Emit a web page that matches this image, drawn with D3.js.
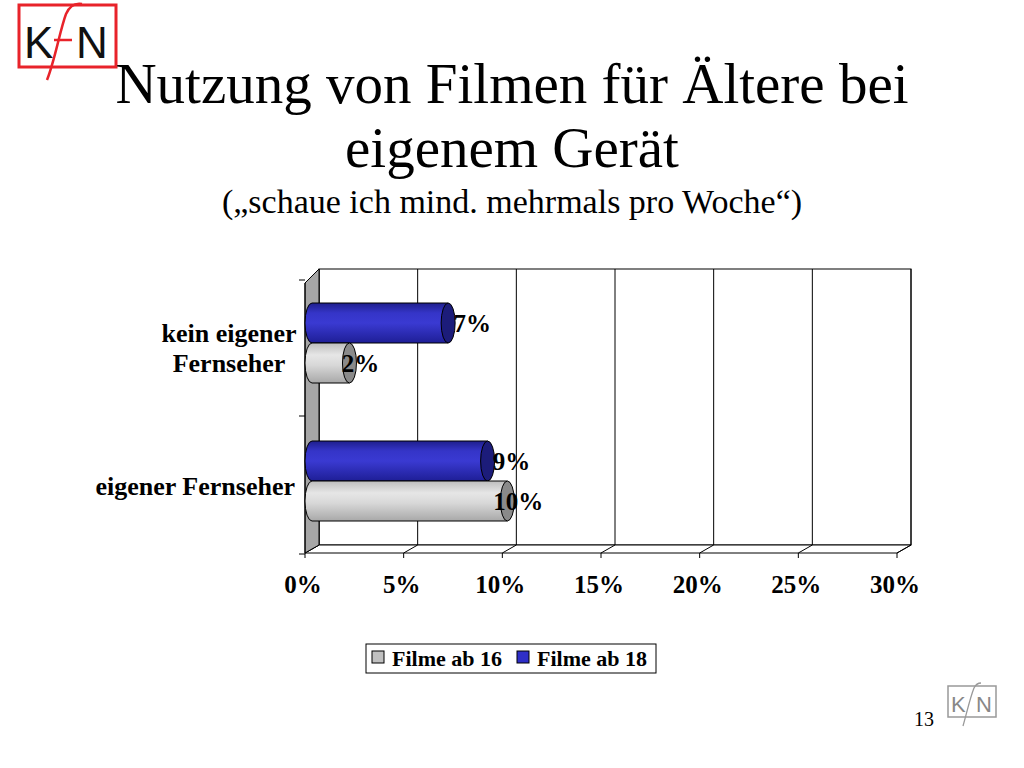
<!DOCTYPE html>
<html><head><meta charset="utf-8">
<script src="https://cdn.jsdelivr.net/npm/d3@7"></script>
<style>body{margin:0;background:#fff}svg{display:block}</style>
</head><body>
<svg id="c" width="1024" height="768"></svg>
<script>
const categories = ["kein eigener Fernseher", "eigener Fernseher"];
const categoryLines = [["kein eigener", "Fernseher"], ["eigener Fernseher"]];
const seriesNames = ["Filme ab 16", "Filme ab 18"];
const filmeAb16 = [2, 10];
const filmeAb18 = [7, 9];
const tickValues = [0, 5, 10, 15, 20, 25, 30];

(function(){
const svg = d3.select("#c");
const serif = "'Liberation Serif','Times New Roman',serif";
const dx = 14, dy = 8;

// logo top-left
const logo = svg.append("g");
logo.append("rect").attr("x",19).attr("y",5).attr("width",97).attr("height",62).attr("fill","none").attr("stroke","#e8232a").attr("stroke-width",3);
logo.append("text").attr("x",24).attr("y",58).attr("font-family","'Liberation Sans',Arial,sans-serif").attr("font-size",44).attr("fill","#111").text("K");
logo.append("text").attr("x",76).attr("y",58).attr("font-family","'Liberation Sans',Arial,sans-serif").attr("font-size",44).attr("fill","#111").text("N");
logo.append("path").attr("d","M47,80 C55,60 60,30 66,14 C70,5 76,3 82,4").attr("fill","none").attr("stroke","#e8232a").attr("stroke-width",2.5);
logo.append("path").attr("d","M54,40 L72,40").attr("fill","none").attr("stroke","#e8232a").attr("stroke-width",2.5);

// title
svg.append("text").attr("x",512).attr("y",103).attr("text-anchor","middle").attr("font-family",serif).attr("font-size",57).text("Nutzung von Filmen für Ältere bei");
svg.append("text").attr("x",512).attr("y",167).attr("text-anchor","middle").attr("font-family",serif).attr("font-size",57).text("eigenem Gerät");
svg.append("text").attr("x",512).attr("y",213).attr("text-anchor","middle").attr("font-family",serif).attr("font-size",34).text("(„schaue ich mind. mehrmals pro Woche“)");

// scales
const x = d3.scaleLinear().domain([0,30]).range([305,897]);
const y = d3.scaleBand().domain(categories).range([274,550]);
const yi = d3.scaleBand().domain(["Filme ab 18","Filme ab 16"]).range([0,y.bandwidth()]).paddingOuter(0.725).paddingInner(0);

const yTop = 269, yBottom = 553;
// back wall
svg.append("rect").attr("x",x(0)+dx).attr("y",yTop).attr("width",x(30)-x(0)).attr("height",yBottom-dy-yTop).attr("fill","#fff").attr("stroke","#000");
tickValues.forEach(t=>{
  svg.append("line").attr("x1",x(t)+dx).attr("x2",x(t)+dx).attr("y1",yTop).attr("y2",yBottom-dy).attr("stroke","#000");
});
// floor
svg.append("path").attr("d",`M${x(0)},${yBottom} L${x(30)},${yBottom} L${x(30)+dx},${yBottom-dy} L${x(0)+dx},${yBottom-dy} Z`).attr("fill","#fff").attr("stroke","#000");
tickValues.forEach(t=>{
  svg.append("line").attr("x1",x(t)).attr("x2",x(t)+dx).attr("y1",yBottom).attr("y2",yBottom-dy).attr("stroke","#000");
  svg.append("line").attr("x1",x(t)).attr("x2",x(t)).attr("y1",yBottom).attr("y2",yBottom+5).attr("stroke","#000");
});
// left side wall
svg.append("path").attr("d",`M${x(0)},${yTop+14} L${x(0)+dx},${yTop} L${x(0)+dx},${yBottom-dy} L${x(0)},${yBottom} Z`).attr("fill","#a6a6a6").attr("stroke","#000");
const yTicks = [y.range()[0]+6].concat(categories.map(c=>y(c)+y.bandwidth()+4));
yTicks.forEach(t=>{
  svg.append("line").attr("x1",x(0)-6).attr("x2",x(0)).attr("y1",t).attr("y2",t).attr("stroke","#000");
});
svg.append("line").attr("x1",x(0)).attr("x2",x(0)).attr("y1",yTop+14).attr("y2",yBottom).attr("stroke","#000");

// x labels
tickValues.forEach(t=>{
  svg.append("text").attr("x",x(t)-2).attr("y",593).attr("text-anchor","middle").attr("font-family",serif).attr("font-weight","bold").attr("font-size",25).text(t+"%");
});

// category labels
categories.forEach((c,i)=>{
  const lines = categoryLines[i];
  const cy = y(c)+y.bandwidth()/2;
  const lh = 30;
  lines.forEach((l,j)=>{
    svg.append("text").attr("x", lines.length>1 ? 229 : 295).attr("text-anchor", lines.length>1?"middle":"end")
      .attr("y", cy + (j-(lines.length-1)/2)*lh + 14)
      .attr("font-family",serif).attr("font-weight","bold").attr("font-size",26).text(l);
  });
});

const defs = svg.append("defs");
function grad(id, stops){
  const g = defs.append("linearGradient").attr("id",id).attr("x1",0).attr("x2",0).attr("y1",0).attr("y2",1);
  stops.forEach(s=>g.append("stop").attr("offset",s[0]).attr("stop-color",s[1]));
}
grad("gBlue",[[0,"#1e1e8c"],[0.25,"#3535c8"],[0.5,"#3a3ad2"],[1,"#1e1e96"]]);
grad("gGray",[[0,"#bdbdbd"],[0.3,"#e6e6e6"],[0.55,"#d8d8d8"],[1,"#a8a8a8"]]);
const styles = {
  "Filme ab 16": {fill:"url(#gGray)", cap:"#8a8a8a", sw:"#c0c0c0", off:16},
  "Filme ab 18": {fill:"url(#gBlue)", cap:"#1c1c7a", sw:"#2e2ec8", off:29}
};
const series = [["Filme ab 18", filmeAb18], ["Filme ab 16", filmeAb16]];
const rx = 7;
series.forEach(([name, vals])=>{
  const st = styles[name];
  categories.forEach((c,i)=>{
    const y0 = y(c)+yi(name), h = yi.bandwidth();
    const xs = x(0), xe = x(vals[i]) + 5;
    svg.append("path").attr("d",`M${xe},${y0} L${xs+rx},${y0} A${rx},${h/2} 0 0 0 ${xs+rx},${y0+h} L${xe},${y0+h} Z`)
      .attr("fill",st.fill).attr("stroke","#000").attr("stroke-width",1);
    svg.append("ellipse").attr("cx",xe).attr("cy",y0+h/2).attr("rx",rx).attr("ry",h/2).attr("fill",st.cap).attr("stroke","#000");
    svg.append("text").attr("x",x(vals[i])+st.off).attr("y",y0+h/2+9).attr("text-anchor","middle")
      .attr("font-family",serif).attr("font-weight","bold").attr("font-size",25).text(vals[i]+"%");
  });
});

// legend
const lg = svg.append("g");
lg.append("rect").attr("x",366).attr("y",644).attr("width",290).attr("height",29).attr("fill","#fff").attr("stroke","#000");
const legX = [372, 517];
seriesNames.forEach((n,i)=>{
  lg.append("rect").attr("x",legX[i]).attr("y",651).attr("width",12).attr("height",12).attr("fill",styles[n].sw).attr("stroke","#000");
  lg.append("text").attr("x",legX[i]+20).attr("y",666).attr("font-family",serif).attr("font-weight","bold").attr("font-size",22).text(n);
});

svg.append("text").attr("x",914).attr("y",726).attr("font-family",serif).attr("font-size",20).text("13");
const sl = svg.append("g");
sl.append("rect").attr("x",948).attr("y",686).attr("width",48).attr("height",31).attr("fill","none").attr("stroke","#999").attr("stroke-width",1.5);
sl.append("text").attr("x",951).attr("y",712).attr("font-family","'Liberation Sans',Arial,sans-serif").attr("font-size",22).attr("fill","#888").text("K");
sl.append("text").attr("x",976).attr("y",712).attr("font-family","'Liberation Sans',Arial,sans-serif").attr("font-size",22).attr("fill","#888").text("N");
sl.append("path").attr("d","M963,726 C967,712 970,698 974,688 C976,684 979,683 981,683").attr("fill","none").attr("stroke","#999").attr("stroke-width",1.3);
})();
</script>
</body></html>
